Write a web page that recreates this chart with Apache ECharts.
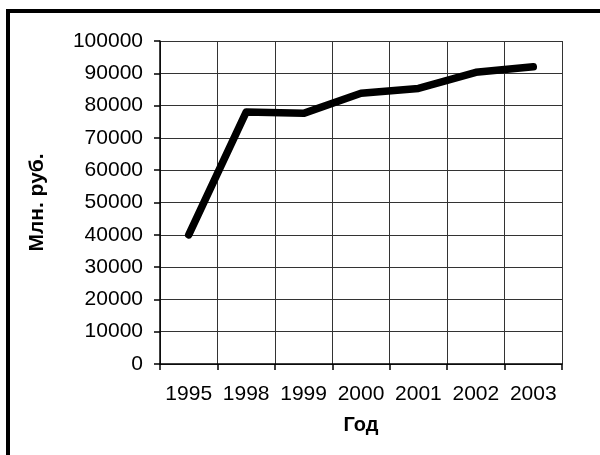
<!DOCTYPE html>
<html>
<head>
<meta charset="utf-8">
<script src="https://cdn.jsdelivr.net/npm/echarts@6/dist/echarts.min.js"></script>
<style>
html, body { margin: 0; padding: 0; background: #fff; }
#main { width: 600px; height: 455px; }
</style>
</head>
<body>
<div id="main"></div>
<script>
// данные
var years = ['1995', '1998', '1999', '2000', '2001', '2002', '2003'];
var values = [40000, 78000, 77600, 83800, 85300, 90300, 92000];
var yTicks = [0, 100000, 10000]; // min, max, шаг

var chart = echarts.init(document.getElementById('main'));

var option = {
	backgroundColor: '#fff',
	animation: false,
	textStyle: { fontFamily: 'Liberation Sans, Arial, sans-serif' },
	graphic: [{
		type: 'rect',
		shape: { x: 8, y: 11, width: 600, height: 460 },
		style: { fill: 'none', stroke: '#000', lineWidth: 4 },
		silent: true
	}],
	grid: {
		left: 160,
		top: 41,
		width: 402,
		height: 323,
		containLabel: false
	},
	xAxis: {
		type: 'category',
		data: years,
		boundaryGap: true,
		name: 'Год',
		nameLocation: 'middle',
		nameGap: 51,
		nameTextStyle: { color: '#000', fontSize: 20, fontWeight: 'bold' },
		axisLine: { lineStyle: { color: '#000', width: 1.5 } },
		axisTick: { show: true, inside: false, length: 6, interval: 0, lineStyle: { color: '#000', width: 1.5 } },
		axisLabel: { color: '#000', fontSize: 21, margin: 20, interval: 0 },
		splitLine: { show: true, interval: 0, lineStyle: { color: '#333', width: 1 } }
	},
	yAxis: {
		type: 'value',
		min: yTicks[0],
		max: yTicks[1],
		interval: yTicks[2],
		name: 'Млн. руб.',
		nameLocation: 'middle',
		nameGap: 112,
		nameRotate: 90,
		nameTextStyle: { color: '#000', fontSize: 21, fontWeight: 'bold' },
		axisLine: { show: true, lineStyle: { color: '#000', width: 1.5 } },
		axisTick: { show: true, inside: false, length: 6, lineStyle: { color: '#000', width: 1.5 } },
		axisLabel: {
			color: '#000', fontSize: 21, margin: 17,
			formatter: function (v) { return String(v); }
		},
		splitLine: { show: true, lineStyle: { color: '#333', width: 1 } }
	},
	series: [{
		type: 'line',
		data: values,
		symbol: 'none',
		lineStyle: { color: '#000', width: 7.5, cap: 'round', join: 'round' }
	}]
};

chart.setOption(option);
</script>
</body>
</html>
